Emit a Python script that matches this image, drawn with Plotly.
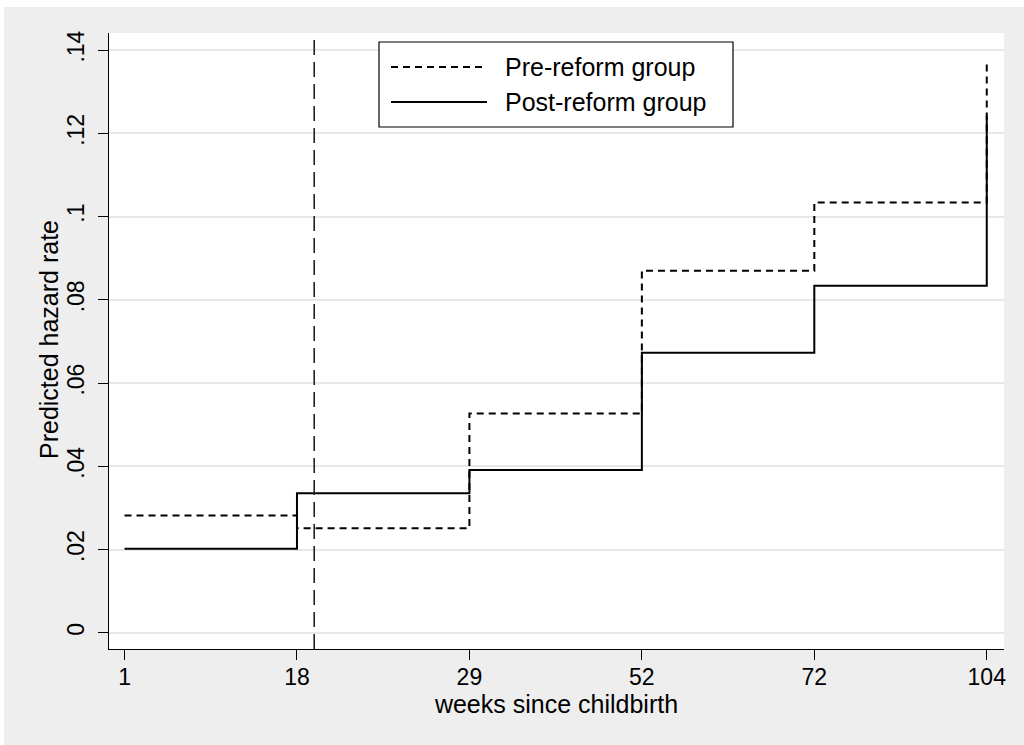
import plotly.graph_objects as go

# ---- data ----
weeks = [1, 18, 29, 52, 72, 104]
pre_reform = [0.0282, 0.0251, 0.0527, 0.0870, 0.1034, 0.1377]
post_reform = [0.0202, 0.0335, 0.0391, 0.0673, 0.0834, 0.1242]
y_ticks = [0, 0.02, 0.04, 0.06, 0.08, 0.10, 0.12, 0.14]
y_ticktext = ["0", ".02", ".04", ".06", ".08", ".1", ".12", ".14"]
reform_line_pos = 1.1  # position between week 18 and 29 on the ordinal axis
series_names = ["Pre-reform group", "Post-reform group"]
x_title = "weeks since childbirth"
y_title = "Predicted hazard rate"

pos = list(range(len(weeks)))

W, H = 1024, 745
ML, MR, MT, MB = 109, 20, 33, 96
PW, PH = W - ML - MR, H - MT - MB


def px(x):
    return (x - ML) / PW


def py(y):
    return (H - MB - y) / PH


FONT = "Liberation Sans, Arial, Helvetica, sans-serif"
GREY = "#eeeeee"

fig = go.Figure()
fig.add_trace(go.Scatter(x=pos, y=pre_reform, mode="lines", line_shape="hv",
                         line=dict(color="black", width=2, dash="7px,5px"),
                         name=series_names[0], showlegend=False))
fig.add_trace(go.Scatter(x=pos, y=post_reform, mode="lines", line_shape="hv",
                         line=dict(color="black", width=2),
                         name=series_names[1], showlegend=False))

shapes = [
    # white page strips outside the grey graph region
    dict(type="rect", xref="paper", yref="paper", x0=px(0), x1=px(W), y0=py(7), y1=py(0),
         fillcolor="white", line_width=0, layer="below"),
    dict(type="rect", xref="paper", yref="paper", x0=px(0), x1=px(4), y0=py(H), y1=py(0),
         fillcolor="white", line_width=0, layer="below"),
    # reform vertical line
    dict(type="line", xref="x", yref="paper", x0=reform_line_pos, x1=reform_line_pos, y0=0, y1=1,
         line=dict(color="#222222", width=1.6, dash="15px,7px"), layer="above"),
    # legend box
    dict(type="rect", xref="paper", yref="paper", x0=px(379), x1=px(733), y0=py(127), y1=py(42),
         fillcolor="white", line=dict(color="black", width=1.2), layer="above"),
    dict(type="line", xref="paper", yref="paper", x0=px(391), x1=px(487), y0=py(67), y1=py(67),
         line=dict(color="black", width=2, dash="7px,5px"), layer="above"),
    dict(type="line", xref="paper", yref="paper", x0=px(391), x1=px(487), y0=py(102), y1=py(102),
         line=dict(color="black", width=2), layer="above"),
]

annotations = [
    dict(xref="paper", yref="paper", x=px(503), y=py(67), text=series_names[0], showarrow=False,
         xanchor="left", yanchor="middle", font=dict(family=FONT, size=25, color="black")),
    dict(xref="paper", yref="paper", x=px(503), y=py(102), text=series_names[1], showarrow=False,
         xanchor="left", yanchor="middle", font=dict(family=FONT, size=25, color="black")),
    dict(xref="paper", yref="paper", x=px(49), y=py(340), text=y_title, showarrow=False,
         textangle=-90, xanchor="center", yanchor="middle",
         font=dict(family=FONT, size=25, color="black")),
]

fig.update_layout(
    width=W, height=H,
    margin=dict(l=ML, r=MR, t=MT, b=MB, pad=0),
    paper_bgcolor=GREY, plot_bgcolor="white",
    shapes=shapes, annotations=annotations,
    font=dict(family=FONT, color="black"),
    xaxis=dict(
        range=[-0.09, 5.1], tickmode="array", tickvals=pos, ticktext=[str(w) for w in weeks],
        showgrid=False, zeroline=False, showline=True, linecolor="black", linewidth=1.3,
        ticks="outside", ticklen=10, tickwidth=1.3, tickcolor="black",
        tickfont=dict(family=FONT, size=23), ticklabelstandoff=-3,
        title=dict(text=x_title, font=dict(family=FONT, size=25), standoff=2),
    ),
    yaxis=dict(
        range=[-0.0039, 0.1441], tickmode="array", tickvals=y_ticks, ticktext=y_ticktext,
        showgrid=True, gridcolor="#e8e8e8", gridwidth=1.5, zeroline=False,
        showline=True, linecolor="black", linewidth=1.3,
        ticks="outside", ticklen=10, tickwidth=1.3, tickcolor="black", tickangle=-90,
        tickfont=dict(family=FONT, size=23), ticklabelstandoff=5,
    ),
)

fig.write_html("out.html")
